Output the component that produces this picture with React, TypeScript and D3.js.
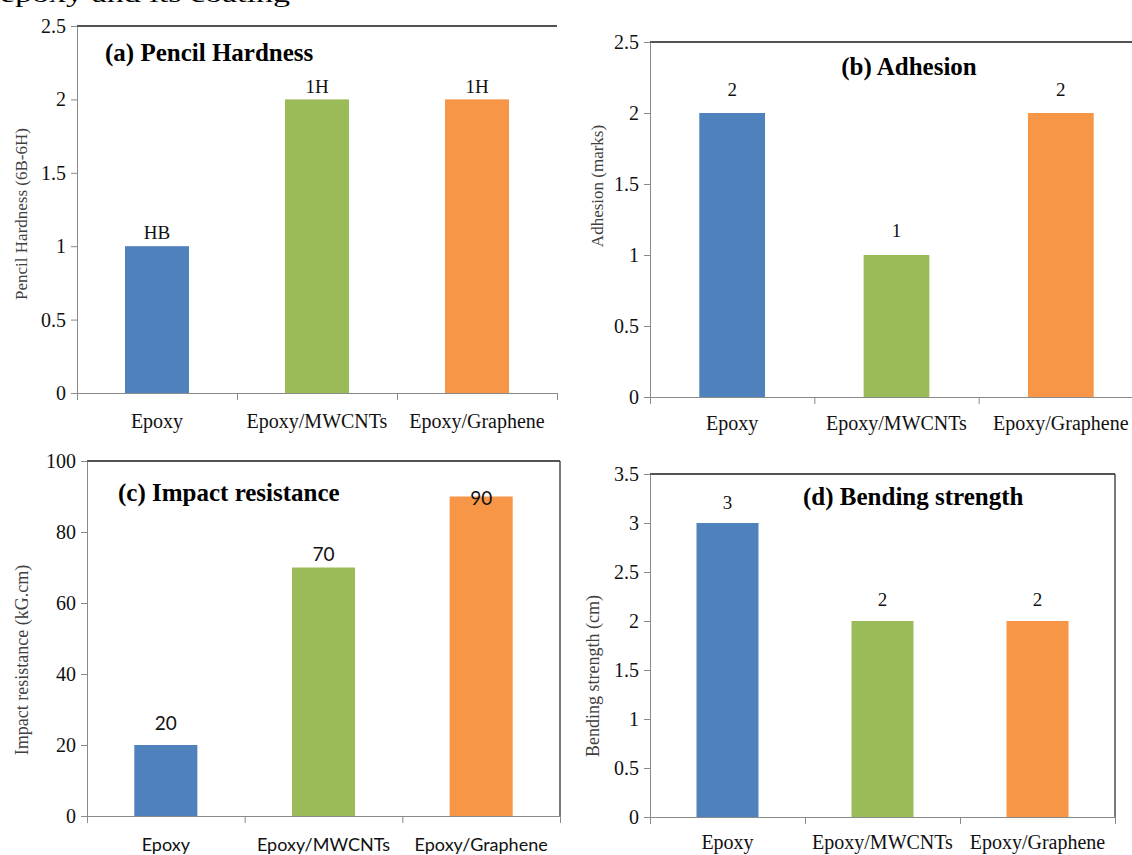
import React, { useEffect, useRef } from 'react';
import * as d3 from 'd3';

// Data
const categories = ['Epoxy', 'Epoxy/MWCNTs', 'Epoxy/Graphene'];
const barColors = ['#4F81BD', '#9BBB59', '#F79646'];

const hardnessValues = [1, 2, 2];
const hardnessLabels = ['HB', '1H', '1H'];
const hardnessTicks = [0, 0.5, 1, 1.5, 2, 2.5];

const adhesionValues = [2, 1, 2];
const adhesionLabels = ['2', '1', '2'];
const adhesionTicks = [0, 0.5, 1, 1.5, 2, 2.5];

const impactValues = [20, 70, 90];
const impactLabels = ['20', '70', '90'];
const impactTicks = [0, 20, 40, 60, 80, 100];

const bendingValues = [3, 2, 2];
const bendingLabels = ['3', '2', '2'];
const bendingTicks = [0, 0.5, 1, 1.5, 2, 2.5, 3, 3.5];

const SERIF = '"Liberation Serif", "Times New Roman", serif';
const SANS = 'Lato, "Open Sans", sans-serif';

interface PanelConfig {
  values: number[];
  labels: string[];
  ticks: number[];
  title: string;
  yTitle: string;
  left: number;
  right: number;
  top: number;
  bottom: number;
  box: boolean;
  titleX: number;
  titleY: number;
  titleAnchor: string;
  yTitleX: number;
  yTitleY: number;
  yTitleSize: number;
  catFont: string;
  catSize: number;
  catY: number;
  valueFont: string;
  valueOffsets: number[];
}

const panels: PanelConfig[] = [
  {
    values: hardnessValues, labels: hardnessLabels, ticks: hardnessTicks,
    title: '(a) Pencil Hardness', yTitle: 'Pencil Hardness (6B-6H)',
    left: 77, right: 557, top: 26, bottom: 393, box: false,
    titleX: 105, titleY: 61, titleAnchor: 'start',
    yTitleX: 21, yTitleY: 214, yTitleSize: 17,
    catFont: SERIF, catSize: 20, catY: 428, valueFont: SERIF, valueOffsets: [-7, -6, -6]
  },
  {
    values: adhesionValues, labels: adhesionLabels, ticks: adhesionTicks,
    title: '(b) Adhesion', yTitle: 'Adhesion (marks)',
    left: 650, right: 1143, top: 42, bottom: 397, box: false,
    titleX: 909, titleY: 75, titleAnchor: 'middle',
    yTitleX: 597, yTitleY: 186, yTitleSize: 17,
    catFont: SERIF, catSize: 20, catY: 430, valueFont: SERIF, valueOffsets: [-17, -18, -17]
  },
  {
    values: impactValues, labels: impactLabels, ticks: impactTicks,
    title: '(c) Impact resistance', yTitle: 'Impact resistance (kG.cm)',
    left: 87, right: 560, top: 461, bottom: 816, box: true,
    titleX: 118, titleY: 501, titleAnchor: 'start',
    yTitleX: 22, yTitleY: 660, yTitleSize: 18,
    catFont: SANS, catSize: 18, catY: 851, valueFont: SANS, valueOffsets: [-15, -7, 8]
  },
  {
    values: bendingValues, labels: bendingLabels, ticks: bendingTicks,
    title: '(d) Bending strength', yTitle: 'Bending strength (cm)',
    left: 650, right: 1115, top: 474, bottom: 817, box: true,
    titleX: 803, titleY: 505, titleAnchor: 'start',
    yTitleX: 593, yTitleY: 676, yTitleSize: 18,
    catFont: SERIF, catSize: 20, catY: 849, valueFont: SERIF, valueOffsets: [-14, -15, -15]
  }
];

function drawPanel(svg: d3.Selection<SVGSVGElement, unknown, null, undefined>, cfg: PanelConfig) {
  const g = svg.append('g');

  const yScale = d3.scaleLinear()
    .domain([0, d3.max(cfg.ticks) as number])
    .range([cfg.bottom, cfg.top]);

  const xBand = d3.scaleBand()
    .domain(categories)
    .range([cfg.left, cfg.right])
    .paddingInner(0.6)
    .paddingOuter(0.3);

  const xEdges = d3.scaleLinear().domain([0, categories.length]).range([cfg.left, cfg.right]);

  // Frame (top line, right border for boxed panels)
  g.append('line')
    .attr('x1', cfg.left).attr('x2', cfg.right)
    .attr('y1', cfg.top).attr('y2', cfg.top)
    .attr('stroke', '#1a1a1a').attr('stroke-width', 1.3);
  if (cfg.box) {
    g.append('line')
      .attr('x1', cfg.right).attr('x2', cfg.right)
      .attr('y1', cfg.top).attr('y2', cfg.bottom)
      .attr('stroke', '#333').attr('stroke-width', 1.3);
  }

  // Bars
  g.selectAll('rect.bar')
    .data(cfg.values)
    .enter()
    .append('rect')
    .attr('class', 'bar')
    .attr('x', (_, i) => xBand(categories[i]) as number)
    .attr('width', xBand.bandwidth())
    .attr('y', d => yScale(d))
    .attr('height', d => cfg.bottom - yScale(d))
    .attr('fill', (_, i) => barColors[i]);

  // Value labels
  g.selectAll('text.value')
    .data(cfg.values)
    .enter()
    .append('text')
    .attr('class', 'value')
    .attr('x', (_, i) => (xBand(categories[i]) as number) + xBand.bandwidth() / 2)
    .attr('y', (d, i) => yScale(d) + cfg.valueOffsets[i])
    .attr('text-anchor', 'middle')
    .style('font-family', cfg.valueFont)
    .style('font-size', '19px')
    .attr('fill', '#111')
    .text((_, i) => cfg.labels[i]);

  // Y axis
  const yAxis = d3.axisLeft(yScale)
    .tickValues(cfg.ticks)
    .tickSize(6)
    .tickSizeOuter(0)
    .tickPadding(5)
    .tickFormat(d => String(d));

  const yg = g.append('g')
    .attr('transform', `translate(${cfg.left},0)`)
    .call(yAxis);
  yg.select('.domain').attr('stroke', '#8a8a8a');
  yg.selectAll('.tick line').attr('stroke', '#8a8a8a');
  yg.selectAll('.tick text')
    .style('font-family', SERIF)
    .style('font-size', '20px')
    .attr('fill', '#111');

  // X axis (ticks on category boundaries)
  const xAxis = d3.axisBottom(xEdges)
    .tickValues(d3.range(categories.length + 1))
    .tickSize(7)
    .tickSizeOuter(0)
    .tickFormat(() => '');

  const xg = g.append('g')
    .attr('transform', `translate(0,${cfg.bottom})`)
    .call(xAxis);
  xg.select('.domain').attr('stroke', '#8a8a8a');
  xg.selectAll('.tick line').attr('stroke', '#8a8a8a');

  // Category labels
  g.selectAll('text.cat')
    .data(categories)
    .enter()
    .append('text')
    .attr('class', 'cat')
    .attr('x', d => (xBand(d) as number) + xBand.bandwidth() / 2)
    .attr('y', cfg.catY)
    .attr('text-anchor', 'middle')
    .style('font-family', cfg.catFont)
    .style('font-size', `${cfg.catSize}px`)
    .attr('fill', '#111')
    .text(d => d);

  // Y axis title
  g.append('text')
    .attr('transform', `translate(${cfg.yTitleX},${cfg.yTitleY}) rotate(-90)`)
    .attr('text-anchor', 'middle')
    .attr('dy', '0.35em')
    .style('font-family', SERIF)
    .style('font-size', `${cfg.yTitleSize}px`)
    .attr('fill', '#404040')
    .text(cfg.yTitle);

  // Panel title
  g.append('text')
    .attr('x', cfg.titleX)
    .attr('y', cfg.titleY)
    .attr('text-anchor', cfg.titleAnchor)
    .style('font-family', SERIF)
    .style('font-size', '25px')
    .style('font-weight', 'bold')
    .attr('fill', '#000')
    .text(cfg.title);
}

const App: React.FC = () => {
  const chartRef = useRef<SVGSVGElement>(null);

  useEffect(() => {
    if (!chartRef.current) return;
    const svg = d3.select(chartRef.current);
    svg.selectAll('*').remove();

    svg.append('rect')
      .attr('width', 1132)
      .attr('height', 855)
      .attr('fill', '#fff');

    // cut-off caption line from the page above
    svg.append('text')
      .attr('x', 0)
      .attr('y', 2)
      .style('font-family', SERIF)
      .style('font-size', '24px')
      .attr('fill', '#000')
      .attr('textLength', 290)
      .attr('lengthAdjust', 'spacingAndGlyphs')
      .text('epoxy and its coating');

    panels.forEach(p => drawPanel(svg, p));
  }, []);

  return (
    <svg
      ref={chartRef}
      width={1132}
      height={855}
      style={{ position: 'absolute', left: 0, top: 0, display: 'block' }}
    />
  );
};

export default App;
